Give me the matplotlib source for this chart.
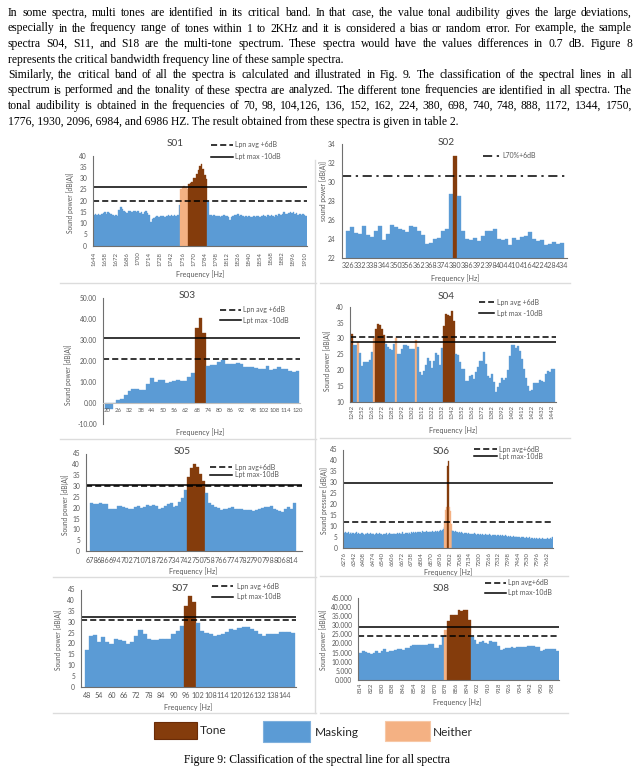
import numpy as np
import matplotlib
matplotlib.use('Agg')
import matplotlib.pyplot as plt
from matplotlib.lines import Line2D
from matplotlib.patches import Rectangle

W, H = 639, 771
plt.rcParams['font.family'] = ['Lato', 'DejaVu Sans']
fig = plt.figure(figsize=(W / 100, H / 100), dpi=100)
renderer = fig.canvas.get_renderer()

TONE = '#843C0C'
MASK = '#5B9BD5'
NEITHER = '#F4B183'
GREY = '#595959'
SERIF = 'Liberation Serif'

# ---------------- text of the page ----------------
para = [
    "In some spectra, multi tones are identified in its critical band. In that case, the value tonal audibility gives the large deviations,",
    "especially in the frequency range of tones within 1 to 2KHz and it is considered a bias or random error. For example, the sample",
    "spectra S04, S11, and S18 are the multi-tone spectrum. These spectra would have the values differences in 0.7 dB. Figure 8",
    "represents the critical bandwidth frequency line of these sample spectra.",
    "Similarly, the critical band of all the spectra is calculated and illustrated in Fig. 9. The classification of the spectral lines in all",
    "spectrum is performed and the tonality of these spectra are analyzed. The different tone frequencies are identified in all spectra. The",
    "tonal audibility is obtained in the frequencies of 70, 98, 104,126, 136, 152, 162, 224, 380, 698, 740, 748, 888, 1172, 1344, 1750,",
    "1776, 1930, 2096, 6984, and 6986 HZ. The result obtained from these spectra is given in table 2.",
]
para_justify = [True, True, True, False, True, True, True, False]
caption = "Figure 9: Classification of the spectral line for all spectra"
legend_names = ['Tone', 'Masking', 'Neither']

# ---------------- data ----------------
s01_freq = np.arange(1644, 1914, 2)
s01_values = [13.5, 14.0, 13.8, 14.2, 13.6, 13.9,
              14.5, 14.8, 14.3, 15.0, 14.6, 14.2,
              13.5, 13.2, 13.8, 13.4, 16.0, 17.0, 16.2, 15.5,
              15.0, 14.6, 15.3, 15.5, 14.8, 15.2, 15.6, 14.9, 15.3, 14.5,
              15.0, 14.2, 14.8, 15.4, 14.6, 13.8,
              10.5, 11.8, 12.3, 12.8, 13.0, 12.6,
              13.4, 13.0, 13.3, 12.8, 13.2, 13.5,
              13.0, 13.6, 13.3, 13.8, 13.4, 13.6,
              18.0,
              25.0, 26.0, 26.5, 26.2, 25.3,
              27.5, 28.0, 28.5, 30.0, 30.2, 31.8, 33.5, 35.2, 36.3, 34.0, 31.5, 29.5,
              19.5,
              13.5, 13.8, 13.2, 13.6, 13.0, 13.4, 13.1, 12.8, 13.3, 13.6,
              13.0, 13.4, 12.9, 11.5, 12.8, 13.4, 13.8, 13.5, 13.9, 13.2,
              13.6, 13.0, 12.7, 13.2, 12.8, 13.1, 12.6, 12.9, 13.3, 12.7,
              13.0, 13.4, 12.8, 13.2, 13.6, 13.1, 12.9, 13.5, 13.0, 13.8,
              13.2, 12.9, 13.6, 13.4, 14.0, 13.5, 14.3, 14.8, 14.2, 13.9,
              14.6, 15.0, 14.4, 14.8, 14.2, 14.6, 13.8, 14.1, 13.6, 14.0, 13.5, 13.2]
s01_tone = [60, 61, 62, 63, 64, 65, 66, 67, 68, 69, 70, 71]
s01_neither = [55, 56, 57, 58, 59]
s01_lines = [20.0, 26.2]   # Lpn avg +6dB, Lpt max -10dB

s02_freq = np.arange(326, 436, 2)
s02_values = [24.8, 25.2, 24.6, 24.5, 25.4, 24.4, 24.2, 24.8, 25.4, 23.9,
              24.5, 25.5, 25.2, 25.0, 24.9, 24.7, 25.4, 25.2, 24.8, 24.4,
              23.4, 23.6, 24.0, 24.1, 24.8, 25.0, 28.7, 32.8, 28.5, 24.8,
              24.0, 23.9, 24.1, 23.8, 24.3, 24.8, 24.8, 25.0, 24.0, 23.9,
              24.0, 23.3, 24.1, 23.9, 24.2, 24.3, 24.7, 24.0, 23.8, 23.9,
              23.3, 23.4, 23.7, 23.5, 23.6]
s02_tone = [27]
s02_neither = []
s02_lines = [30.6]         # L70%+6dB

s03_ticks = ['20', '26', '32', '38', '44', '50', '56', '62', '68', '74', '80',
             '86', '92', '98', '102', '108', '114', '120']
s03_values = [-2.5, -2.5, 0.0, 1.8, 2.2, 3.8, 5.8, 6.7, 6.7, 6.4,
              6.2, 9.0, 12.0, 10.0, 11.0, 11.0, 9.6, 10.0, 10.8, 11.3,
              10.7, 10.4, 12.3, 14.3, 36.0, 40.8, 33.5, 18.0, 18.2, 18.3,
              19.8, 20.4, 18.6, 18.6, 18.7, 19.3, 18.7, 17.3, 17.1, 17.2,
              16.9, 16.4, 16.4, 17.6, 16.0, 16.3, 17.3, 16.2, 16.5, 15.6,
              14.9, 15.3]
s03_tone = [24, 25, 26]
s03_neither = []
s03_lines = [21.3, 31.0]

s04_freq = np.arange(1242, 1446, 2)
s04_values = [31.3, 28.0, 28.0, 28.7, 25.5, 21.2, 22.5, 22.5, 22.5, 23.3,
              25.6, 30.0, 33.0, 34.5, 34.2, 33.0, 31.0, 28.3, 27.3, 26.8,
              26.4, 28.2, 30.0, 25.2, 25.0, 26.6, 28.0, 28.0, 27.5, 26.7,
              26.8, 26.8, 29.5, 27.2, 19.5, 18.3, 19.8, 21.5, 23.8, 22.7,
              20.8, 22.8, 25.5, 24.8, 21.5, 27.0, 34.0, 37.6, 37.5, 37.2,
              38.8, 35.5, 25.2, 24.7, 22.5, 20.3, 20.3, 16.5, 16.5, 18.0,
              18.3, 17.3, 19.5, 21.0, 22.8, 23.0, 25.8, 22.0, 18.0, 17.5,
              18.7, 16.2, 13.2, 14.5, 15.8, 17.5, 17.0, 17.5, 20.0, 24.5,
              27.8, 28.0, 27.0, 27.5, 26.0, 23.5, 20.3, 17.5, 15.0, 13.5,
              13.7, 16.0, 15.8, 15.8, 16.8, 16.5, 16.2, 18.8, 19.8, 19.3,
              20.3, 20.3]
s04_tone = [0, 12, 13, 14, 15, 16, 46, 47, 48, 49, 50, 51]
s04_neither = [3, 11, 22, 32]
s04_lines = [30.4, 28.8]

s05_freq = np.arange(678, 818, 2)
s05_values = [22.0, 21.8, 21.7, 22.2, 21.8, 21.5, 19.2, 19.5, 19.3, 20.8,
              20.7, 20.2, 19.8, 19.6, 19.4, 20.2, 21.0, 19.8, 20.3, 21.2,
              20.8, 21.2, 20.6, 19.6, 19.8, 20.8, 21.5, 22.3, 20.5, 21.0,
              22.5, 24.3, 28.3, 34.3, 38.5, 40.2, 38.7, 35.5, 32.3, 26.8,
              22.0, 21.2, 20.5, 19.8, 19.0, 19.2, 19.5, 19.8, 20.4, 19.6,
              19.2, 19.3, 18.8, 18.7, 18.9, 18.5, 18.8, 19.2, 19.8, 20.3,
              20.2, 20.7, 19.3, 19.0, 18.5, 18.2, 19.6, 20.3, 19.5, 22.0]
s05_tone = [33, 34, 35, 36, 37, 38]
s05_neither = []
s05_lines = [30.0, 30.6]

s06_freq = np.arange(6276, 7710, 6)
s06_values = [7.2, 6.8, 7.1, 6.6, 6.9, 7.0, 6.4, 6.8, 7.1, 6.5, 6.7, 6.9,
              6.3, 6.6, 7.0, 6.2, 6.5, 6.8, 6.1, 6.4, 6.7, 6.9, 6.3, 6.0,
              6.5, 6.8, 6.2, 6.6, 6.4, 6.1, 6.7, 6.3, 6.5, 6.9, 6.2, 6.0,
              6.4, 6.7, 6.1, 6.3, 6.6, 6.0, 6.4, 6.2, 5.9, 6.5, 6.3, 6.1,
              6.6, 6.2, 6.0, 6.4, 6.7, 6.1, 6.3, 6.5, 6.2, 6.8, 6.4, 6.1,
              6.5, 6.9, 6.3, 6.6, 6.2, 6.7, 6.4, 7.0, 6.5, 6.3, 6.8, 6.6,
              6.9, 6.4, 7.1, 6.7, 6.5, 7.0, 6.8, 7.2, 6.6, 7.0, 7.3, 6.9,
              7.1, 7.4, 7.0, 7.3, 6.9, 7.5, 7.2, 7.0, 7.4, 7.1, 7.6, 7.2,
              7.4, 7.0, 7.5, 7.3, 7.1, 7.6, 7.2, 7.4, 7.7, 7.3, 7.5, 7.8,
              7.4, 7.6, 7.9, 7.5, 8.0, 8.6, 9.4,
              12.0, 17.5, 18.5, 37.5, 39.8, 18.8, 17.0, 11.0,
              8.3, 7.8, 7.5, 7.2, 7.6, 7.1, 7.4, 6.9, 7.2, 7.0, 6.7, 7.1,
              6.8, 6.5, 6.9, 6.6, 6.3, 6.7, 6.4, 6.8, 6.2, 6.5, 6.1, 6.4,
              6.0, 6.3, 6.6, 6.1, 5.9, 6.4, 6.2, 5.8, 6.1, 6.3, 5.9, 6.2,
              5.7, 6.0, 6.3, 5.8, 6.1, 5.6, 5.9, 6.2, 5.7, 5.5, 6.0, 5.8,
              5.6, 6.0, 5.7, 5.5, 5.9, 5.6, 5.4, 5.8, 5.5, 5.3, 5.7, 5.4,
              5.2, 5.6, 5.3, 5.1, 5.5, 5.2, 5.0, 5.4, 5.1, 4.9, 5.3, 5.0,
              4.8, 5.2, 4.9, 4.7, 5.1, 4.8, 4.6, 5.0, 4.7, 4.5, 4.9, 4.6,
              4.4, 4.8, 4.5, 4.3, 4.7, 4.4, 4.2, 4.6, 4.3, 4.1, 4.5, 4.2,
              4.4, 4.0, 4.3, 4.1, 4.5, 4.2, 3.9, 4.3, 4.0, 4.2, 3.8, 4.1,
              3.9, 4.3, 3.8, 4.0, 4.4, 3.9, 4.7, 5.0]
s06_tone = [118, 119]
s06_neither = [115, 116, 117, 120, 121, 122]
s06_lines = [12.0, 29.8]

s07_freq = np.arange(48, 150, 2)
s07_values = [17.0, 23.5, 24.0, 20.5, 23.0, 20.5, 20.0, 22.0, 21.8, 21.3,
              20.0, 20.5, 23.5, 26.3, 24.5, 22.0, 21.8, 21.5, 22.3, 22.0,
              22.2, 24.3, 25.8, 28.3, 37.4, 42.0, 39.4, 29.3, 26.0, 24.8,
              24.3, 23.7, 23.9, 24.4, 25.4, 26.5, 26.2, 27.2, 27.8, 27.8,
              26.8, 25.8, 24.3, 23.5, 24.3, 24.3, 24.5, 25.3, 25.4, 25.3,
              25.0]
s07_tone = [24, 25, 26]
s07_neither = []
s07_lines = [30.8, 32.1]

s08_freq = np.arange(814, 964, 2)
s08_values = [15.0, 15.7, 15.3, 14.7, 14.2, 14.5, 15.6, 14.5, 15.8, 17.0,
              15.2, 15.7, 16.0, 16.2, 16.8, 17.0, 16.6, 17.5, 17.3, 18.6,
              19.0, 19.0, 19.0, 19.4, 19.0, 19.4, 19.8, 19.8, 17.4, 17.4,
              19.0, 24.2, 27.5, 32.0, 35.8, 35.6, 35.8, 38.3, 37.8, 38.3,
              38.5, 33.0, 23.5, 22.0, 19.6, 21.0, 21.2, 20.0, 19.8, 21.4,
              20.6, 20.9, 18.6, 16.3, 16.8, 17.3, 17.3, 17.8, 17.6, 17.8,
              18.0, 18.0, 18.2, 18.4, 18.8, 18.6, 18.3, 18.2, 16.0, 16.3,
              16.7, 16.9, 17.0, 17.2, 15.7]
s08_tone = [33, 34, 35, 36, 37, 38, 39, 40, 41]
s08_neither = [32]
s08_lines = [24.3, 28.9]

DASH = (0, (4, 2))
DASHDOT = (0, (6, 3, 1.5, 3))

# ---------------- layout of the eight panels (pixels, top-left origin) ----------------
panels = [
    dict(title='S01', values=s01_values, tone=s01_tone, neither=s01_neither,
         labels=[str(f) for f in s01_freq[::7]], stride=7, rot=90, xls=4.3,
         box=(93, 155.7, 307, 245.7), ylim=(0, 40), yticks=range(0, 45, 5), yfmt='{:.0f}',
         xlim=(-0.5, 134.5), xpad=4.3,
         lines=[(s01_lines[0], DASH), (s01_lines[1], '-')],
         legend=[('Lpn avg +6dB', DASH), ('Lpt max -10dB', '-')],
         leg=(211, 233, 145, 11.7, 235),
         tpos=(175, 143.3), ylab='Sound power [dB(A)]', ypos=(70, 203), xpos=(200, 274)),
    dict(title='S02', values=s02_values, tone=s02_tone, neither=s02_neither,
         labels=[str(f) for f in s02_freq[::3]], stride=3, rot=0, xls=5.25,
         box=(341.7, 144.3, 566.7, 257.7), ylim=(22, 34), yticks=range(22, 36, 2), yfmt='{:.0f}',
         xlim=(-1.6, 55.2), xpad=3.3,
         lines=[(s02_lines[0], DASHDOT)],
         legend=[('L70%+6dB', DASHDOT)],
         leg=(483, 500, 155.7, 0, 502),
         tpos=(446, 142.3), ylab='sound power [dB(A)]', ypos=(323.5, 191), xpos=(455, 277.7)),
    dict(title='S03', values=s03_values, tone=s03_tone, neither=s03_neither,
         labels=s03_ticks, stride=3, rot=90, xls=4.3,
         box=(102.7, 298.3, 300, 424.3), ylim=(-10, 50), yticks=range(-10, 60, 10), yfmt='{:.2f}',
         xlim=(-1.2, 51.7), xpad=3.5, zero=True,
         lines=[(s03_lines[0], DASH), (s03_lines[1], '-')],
         legend=[('Lpn avg +6dB', DASH), ('Lpt max -10dB', '-')],
         leg=(220, 241, 309.7, 10.3, 243),
         tpos=(187, 296), ylab='Sound power [dB(A)]', ypos=(68.3, 375), xpos=(200, 431.7)),
    dict(title='S04', values=s04_values, tone=s04_tone, neither=s04_neither,
         labels=[str(f) for f in s04_freq[::5]], stride=5, rot=90, xls=4.3,
         box=(350, 306.7, 556, 401.7), ylim=(10, 40), yticks=range(10, 45, 5), yfmt='{:.0f}',
         xlim=(-1.15, 101.85), xpad=2.4,
         lines=[(s04_lines[0], DASH), (s04_lines[1], '-')],
         legend=[('Lpn avg +6dB', DASH), ('Lpt max -10dB', '-')],
         leg=(479, 494, 302.3, 11, 497),
         tpos=(446, 296.5), ylab='Sound power [dB(A)]', ypos=(326.7, 361), xpos=(452.7, 430)),
    dict(title='S05', values=s05_values, tone=s05_tone, neither=s05_neither,
         labels=[str(f) for f in s05_freq[::4]], stride=4, rot=0, xls=5.25,
         box=(86, 453.5, 301.7, 551), ylim=(0, 45), yticks=range(0, 50, 5), yfmt='{:.0f}',
         xlim=(-1.9, 71.4), xpad=4.0,
         lines=[(s05_lines[0], DASH), (s05_lines[1], '-')],
         legend=[('Lpn avg+6dB', DASH), ('Lpt max-10dB', '-')],
         leg=(210, 232, 467.3, 7.7, 235),
         tpos=(181.7, 451.7), ylab='Sound power [dB(A)]', ypos=(65, 505), xpos=(193, 571)),
    dict(title='S06', values=s06_values, tone=s06_tone, neither=s06_neither,
         labels=[str(f) for f in s06_freq[::11]], stride=11, rot=90, xls=4.3,
         box=(343.3, 449.5, 553.3, 547.7), ylim=(0, 45), yticks=range(0, 50, 5), yfmt='{:.0f}',
         xlim=(-0.8, 238.5), xpad=3.0,
         lines=[(s06_lines[0], DASH), (s06_lines[1], '-')],
         legend=[('Lpn avg+6dB', DASH), ('Lpt max-10dB', '-')],
         leg=(474, 497, 449.3, 6.7, 499),
         tpos=(440.7, 451), ylab='Sound pressure [dB(A)]', ypos=(324, 500), xpos=(447.7, 572.3)),
    dict(title='S07', values=s07_values, tone=s07_tone, neither=s07_neither,
         labels=[str(f) for f in s07_freq[::3]], stride=3, rot=0, xls=5.2,
         box=(81, 589.5, 295.7, 686.7), ylim=(0, 45), yticks=range(0, 50, 5), yfmt='{:.0f}',
         xlim=(-1.4, 50.6), xpad=4.0,
         lines=[(s07_lines[0], DASH), (s07_lines[1], '-')],
         legend=[('Lpn avg +6dB', DASH), ('Lpt max-10dB', '-')],
         leg=(212, 233, 586, 10.7, 236.7),
         tpos=(180, 588.3), ylab='Sound power [dB(A)]', ypos=(58.3, 640), xpos=(188, 707.3)),
    dict(title='S08', values=s08_values, tone=s08_tone, neither=s08_neither,
         labels=[str(f) for f in s08_freq[::4]], stride=4, rot=90, xls=4.3,
         box=(358.3, 597.7, 559.3, 680), ylim=(0, 45), yticks=range(0, 50, 5), yfmt='{:.3f}',
         xlim=(-0.9, 74.8), xpad=2.0,
         lines=[(s08_lines[0], DASH), (s08_lines[1], '-')],
         legend=[('Lpn avg+6dB', DASH), ('Lpt max-10dB', '-')],
         leg=(485, 506, 582.7, 10, 508.3),
         tpos=(440.7, 588.3), ylab='Sound power [dB(A)]', ypos=(323.5, 640), xpos=(457.3, 701.7)),
]


def fx(x):
    return x / W


def fy(y):
    return 1 - y / H


def draw_panel(p):
    x0, y0, x1, y1 = p['box']
    ax = fig.add_axes([fx(x0), fy(y1), (x1 - x0) / W, (y1 - y0) / H])
    n = len(p['values'])
    colors = [MASK] * n
    for i in p['neither']:
        colors[i] = NEITHER
    for i in p['tone']:
        colors[i] = TONE
    ax.bar(np.arange(n), p['values'], width=1.0, color=colors,
           edgecolor=colors, linewidth=0.25)
    ax.set_xlim(*p['xlim'])
    ax.set_ylim(*p['ylim'])
    yt = list(p['yticks'])
    ax.set_yticks(yt)
    ax.set_yticklabels([p['yfmt'].format(v) for v in yt])
    ax.set_xticks(np.arange(len(p['labels'])) * p['stride'])
    ax.set_xticklabels(p['labels'], rotation=p['rot'])
    ax.tick_params(axis='y', length=0, pad=4.3, labelsize=4.8, labelcolor=GREY)
    ax.tick_params(axis='x', length=0, pad=p['xpad'], labelsize=p['xls'], labelcolor=GREY)
    for s in ('top', 'right'):
        ax.spines[s].set_visible(False)
    for s in ('left', 'bottom'):
        ax.spines[s].set_color('#6f6f6f')
        ax.spines[s].set_linewidth(0.8)
    if p.get('zero'):
        ax.spines['bottom'].set_position(('data', 0))
        ax.spines['bottom'].set_color('#bfbfbf')
    ax.set_facecolor('none')
    for yv, ls in p['lines']:
        ax.axhline(yv, color='black', lw=1.1, ls=ls)

    # titles and axis labels
    fig.text(fx(p['tpos'][0]), fy(p['tpos'][1]), p['title'], ha='center', va='center',
             fontsize=7.2, color='#404040')
    fig.text(fx(p['ypos'][0]), fy(p['ypos'][1]), p['ylab'], rotation=90, ha='center',
             va='center', fontsize=4.8, color=GREY)
    fig.text(fx(p['xpos'][0]), fy(p['xpos'][1]), 'Frequency [Hz]', ha='center',
             va='center', fontsize=5.2, color=GREY)

    # legend of the threshold lines
    lx0, lx1, ly, dy, tx = p['leg']
    for k, (lab, ls) in enumerate(p['legend']):
        yy = ly + k * dy
        fig.add_artist(Line2D([fx(lx0), fx(lx1)], [fy(yy), fy(yy)], color='black',
                              lw=1.1, ls=ls))
        fig.text(fx(tx), fy(yy), lab, ha='left', va='center', fontsize=5.0, color=GREY)


for p in panels:
    draw_panel(p)

# ---------------- light separators between the chart images ----------------
sep = '#dcdcdc'
for (xa, xb, yy) in [(60, 316, 283), (320, 570, 283), (60, 316, 439), (320, 570, 438),
                     (53, 316, 577), (320, 568, 576), (53, 316, 713), (320, 568, 713)]:
    fig.add_artist(Line2D([fx(xa), fx(xb)], [fy(yy), fy(yy)], color=sep, lw=1.0))
fig.add_artist(Line2D([fx(315), fx(315)], [fy(160), fy(713)], color=sep, lw=1.0))

# ---------------- common legend ----------------
legend_boxes = [(154, 197.3, 721.7, 739.3, 200, 731), (262.7, 310, 721, 741.7, 315, 733),
                (385, 430, 720.7, 740.7, 433.3, 732.7)]
legend_cols = [TONE, MASK, NEITHER]
legend_edges = ['#6a2c08', '#7fb0dd', '#f7c8a6']
for name, col, ed, (a, b, c, d, tx, ty) in zip(legend_names, legend_cols, legend_edges, legend_boxes):
    fig.add_artist(Rectangle((fx(a), fy(d)), (b - a) / W, (d - c) / H, facecolor=col,
                             edgecolor=ed, lw=0.8, transform=fig.transFigure))
    fig.text(fx(tx), fy(ty), name, ha='left', va='center', fontsize=8.6, color='#262626')


# ---------------- paragraph, justified like the page ----------------
def text_w(s, size):
    t = fig.text(0, 0, s, fontsize=size, family=SERIF)
    w = t.get_window_extent(renderer=renderer).width
    t.remove()
    return w


left, right = 8.0, 632.0
fs = 10 * 449.0 / text_w(para[7], 10)
widest = max(text_w(l, fs) for l, j in zip(para, para_justify) if j)
if widest > right - left - 4:
    fs *= (right - left - 4) / widest

for k, (line, just) in enumerate(zip(para, para_justify)):
    yy = fy(13.0 + 15.5 * k)
    if not just:
        fig.text(fx(left), yy, line, fontsize=fs, family=SERIF, ha='left', va='center',
                 color='black')
        continue
    words = line.split(' ')
    ws = [text_w(w_, fs) for w_ in words]
    gap = (right - left - sum(ws)) / (len(words) - 1)
    x = left
    for w_, wd in zip(words, ws):
        fig.text(fx(x), yy, w_, fontsize=fs, family=SERIF, ha='left', va='center',
                 color='black')
        x += wd + gap

cfs = fs * 265.7 / text_w(caption, fs)
fig.text(fx(316.7), fy(760), caption, fontsize=cfs, family=SERIF, ha='center',
         va='center', color='black')

fig.savefig('out.png', dpi=100)
